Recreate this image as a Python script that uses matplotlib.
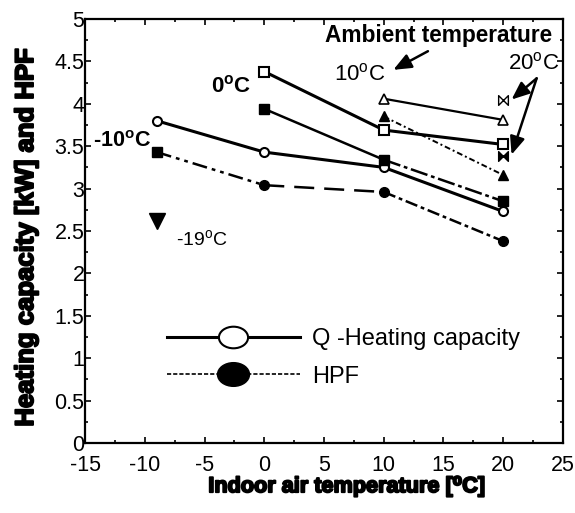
import matplotlib
matplotlib.use('Agg')
import matplotlib.pyplot as plt
from matplotlib.path import Path
from matplotlib.lines import Line2D
from matplotlib.ticker import MultipleLocator
import matplotlib.patheffects as pe

plt.rcParams['font.family'] = ['Liberation Sans', 'DejaVu Sans']
plt.rcParams['mathtext.fontset'] = 'custom'
plt.rcParams['mathtext.rm'] = 'Liberation Sans'
plt.rcParams['mathtext.it'] = 'Liberation Sans:italic'
plt.rcParams['mathtext.bf'] = 'Liberation Sans:bold'
plt.rcParams['axes.unicode_minus'] = False

# ---- data ----
cap_m10_x = [-9, 0, 10, 20]
cap_m10_y = [3.80, 3.43, 3.25, 2.73]
hpf_m10_x = [-9, 0, 10, 20]
hpf_m10_y = [3.43, 3.04, 2.96, 2.38]
cap_0_x = [0, 10, 20]
cap_0_y = [4.38, 3.69, 3.52]
hpf_0_x = [0, 10, 20]
hpf_0_y = [3.94, 3.34, 2.85]
cap_10_x = [10, 20]
cap_10_y = [4.06, 3.81]
hpf_10_x = [10, 20]
hpf_10_y = [3.85, 3.16]
cap_20_x = [20]
cap_20_y = [4.04]
hpf_20_x = [20]
hpf_20_y = [3.39]
m19_x = [-9]
m19_y = [2.62]

x_ticks = [-15, -10, -5, 0, 5, 10, 15, 20, 25]
y_ticks = [0, 0.5, 1, 1.5, 2, 2.5, 3, 3.5, 4, 4.5, 5]
y_tick_labels = ['0', '0.5', '1', '1.5', '2', '2.5', '3', '3.5', '4', '4.5', '5']
legend_labels = ['Q -Heating capacity', 'HPF']

fig = plt.figure(figsize=(5.75, 5.13), dpi=100)
ax = fig.add_axes([0.148, 0.1365, 0.831, 0.8265])

# bowtie marker
bow = Path([(-1, -1), (0, 0), (-1, 1), (-1, -1),
            (1, -1), (0, 0), (1, 1), (1, -1)],
           [Path.MOVETO, Path.LINETO, Path.LINETO, Path.CLOSEPOLY,
            Path.MOVETO, Path.LINETO, Path.LINETO, Path.CLOSEPOLY])

k = 'black'
# -10 C ambient
ax.plot(cap_m10_x, cap_m10_y, '-', color=k, lw=2.2, marker='o', ms=6.5,
        mfc='white', mew=1.5, zorder=3)
ax.plot(hpf_m10_x[0:2], hpf_m10_y[0:2], color=k, lw=1.8,
        ls=(0, (6, 2, 1.5, 2, 1.5, 2)), zorder=2)
ax.plot(hpf_m10_x[1:3], hpf_m10_y[1:3], color=k, lw=1.8, ls=(0, (8, 4)), zorder=2)
ax.plot(hpf_m10_x[2:4], hpf_m10_y[2:4], color=k, lw=1.8,
        ls=(0, (5, 1.5, 1.5, 1.5)), zorder=2)
ax.plot(hpf_m10_x[:1], hpf_m10_y[:1], 's', color=k, ms=6.5, zorder=4)
ax.plot(hpf_m10_x[1:], hpf_m10_y[1:], 'o', color=k, ms=7, zorder=4)

# 0 C ambient
ax.plot(cap_0_x, cap_0_y, '-', color=k, lw=2.2, marker='s', ms=7,
        mfc='white', mew=1.5, zorder=3)
ax.plot(hpf_0_x[0:2], hpf_0_y[0:2], '-', color=k, lw=1.8, zorder=2)
ax.plot(hpf_0_x[1:3], hpf_0_y[1:3], color=k, lw=1.8,
        ls=(0, (7, 1.5, 1.5, 1.5)), zorder=2)
ax.plot(hpf_0_x, hpf_0_y, 's', color=k, ms=7, zorder=4)

# 10 C ambient
ax.plot(cap_10_x, cap_10_y, '-', color=k, lw=1.6, marker='^', ms=7,
        mfc='white', mew=1.2, zorder=3)
ax.plot(hpf_10_x, hpf_10_y, color=k, lw=1.4, ls=(0, (3, 1.5, 1, 1.5)),
        marker='^', ms=7, zorder=3)

# 20 C ambient
ax.plot(cap_20_x, cap_20_y, ls='none', marker=bow, ms=7, mfc='white',
        mec=k, mew=1.0, zorder=3)
ax.plot(hpf_20_x, hpf_20_y, ls='none', marker=bow, ms=7, color=k, zorder=3)

# -19 C
ax.plot(m19_x, m19_y, ls='none', marker='v', ms=11, color=k, zorder=3)

# annotations
ax.text(5.1, 4.81, 'Ambient temperature', fontsize=16.3, fontweight='bold',
        ha='left', va='center')
ax.text(5.8, 4.35, '10$^{\\mathrm{o}}$C', fontsize=16, ha='left', va='center')
ax.text(20.4, 4.48, '20$^{\\mathrm{o}}$C', fontsize=16, ha='left', va='center')
ax.text(-4.5, 4.20, '0$^{\\mathbf{o}}$C', fontsize=16, fontweight='bold',
        ha='left', va='center')
ax.text(-14.3, 3.56, '-10$^{\\mathbf{o}}$C', fontsize=15.5, fontweight='bold',
        ha='left', va='center')
ax.text(-7.4, 2.40, '-19$^{\\mathrm{o}}$C', fontsize=14, ha='left', va='center')

ap = dict(arrowstyle='-|>,head_length=0.6,head_width=0.25', lw=1.8, color=k,
          mutation_scale=18, shrinkA=0, shrinkB=0)
ax.annotate('', xy=(10.8, 4.40), xytext=(13.7, 4.62), arrowprops=ap)
ax.annotate('', xy=(20.7, 4.05), xytext=(22.8, 4.30), arrowprops=ap)
ax.annotate('', xy=(20.7, 3.40), xytext=(22.8, 4.30), arrowprops=ap)

# legend
ell = Path(Path.unit_circle().vertices * [1.35, 1.0], Path.unit_circle().codes)
h1 = Line2D([], [], color=k, lw=2.2, marker=ell, ms=21, mfc='white', mew=1.5)
h2 = Line2D([], [], color=k, lw=1.2, ls=(0, (2.5, 1.2)), marker=ell, ms=23,
            mfc=k)
leg = ax.legend([h1, h2], legend_labels, loc='center left',
                bbox_to_anchor=(0.172, 0.2005), frameon=False, fontsize=17,
                handlelength=5.6, handletextpad=0.55, labelspacing=0.65,
                borderpad=0, borderaxespad=0)

# axes
ax.set_xlim(-15, 25)
ax.set_ylim(0, 5)
ax.set_xticks(x_ticks)
ax.set_yticks(y_ticks)
ax.set_yticklabels(y_tick_labels)
ax.xaxis.set_minor_locator(MultipleLocator(2.5))
ax.yaxis.set_minor_locator(MultipleLocator(0.25))
ax.tick_params(which='both', direction='in', top=True, right=True,
               labelsize=15.5, width=1.2)
ax.tick_params(which='major', length=4)
ax.tick_params(axis='y', which='major', pad=0.5)
ax.tick_params(axis='x', which='major', pad=8.5)
ax.tick_params(which='minor', length=2.5)
for s in ax.spines.values():
    s.set_linewidth(1.6)

heavy = [pe.withStroke(linewidth=1.4, foreground='k')]
ax.set_xlabel('Indoor air temperature [\u2070C]', fontsize=15.6,
              fontweight='bold', path_effects=heavy)
ax.xaxis.label.set_va('baseline')
ax.xaxis.set_label_coords(0.548, -0.116)
ax.set_ylabel('Heating capacity [kW] and HPF', fontsize=18.5,
              fontweight='bold', path_effects=heavy)
ax.yaxis.label.set_va('baseline')
ax.yaxis.set_label_coords(-0.109, 0.486)

fig.savefig('out.png', dpi=100)
